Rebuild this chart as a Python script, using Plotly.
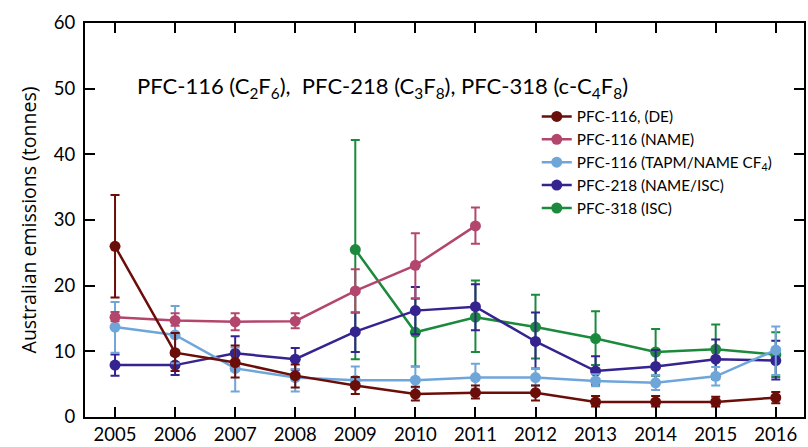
import plotly.graph_objects as go

years = [2005, 2006, 2007, 2008, 2009, 2010, 2011, 2012, 2013, 2014, 2015, 2016]

# PFC-116 (DE)
de_val = [26.0, 9.8, 8.3, 6.3, 4.8, 3.5, 3.7, 3.7, 2.3, 2.3, 2.3, 2.95]
de_lo = [18.2, 7.0, 6.0, 4.5, 3.5, 2.5, 2.8, 2.5, 1.6, 1.6, 1.6, 2.1]
de_hi = [33.8, 12.8, 10.9, 8.0, 6.1, 4.6, 4.8, 4.8, 3.2, 3.2, 3.1, 3.8]

# PFC-116 (NAME)
name_years = [2005, 2006, 2007, 2008, 2009, 2010, 2011]
name_val = [15.2, 14.7, 14.5, 14.6, 19.2, 23.1, 29.1]
name_lo = [14.6, 13.9, 13.2, 13.5, 15.9, 18.1, 26.4]
name_hi = [16.0, 15.8, 15.8, 15.8, 22.5, 28.0, 31.9]

# PFC-116 (TAPM/NAME CF4)
tapm_val = [13.7, 12.5, 7.4, 6.0, 5.6, 5.6, 6.0, 6.0, 5.5, 5.2, 6.2, 10.2]
tapm_lo = [9.8, 8.2, 3.9, 3.9, 4.5, 4.5, 4.3, 4.8, 4.7, 4.1, 4.8, 6.4]
tapm_hi = [17.5, 16.9, 10.6, 7.3, 7.7, 7.7, 8.1, 7.4, 6.5, 6.4, 7.6, 13.8]

# PFC-218 (NAME/ISC)
p218_val = [7.9, 7.9, 9.7, 8.8, 13.0, 16.2, 16.8, 11.5, 7.0, 7.7, 8.8, 8.6]
p218_lo = [6.3, 6.4, 7.1, 7.2, 9.9, 12.6, 13.2, 7.4, 4.9, 5.4, 5.8, 5.7]
p218_hi = [9.5, 9.4, 12.3, 10.5, 15.9, 19.8, 20.2, 15.9, 9.25, 10.2, 11.8, 11.6]

# PFC-318 (ISC)
p318_years = [2009, 2010, 2011, 2012, 2013, 2014, 2015, 2016]
p318_val = [25.5, 12.9, 15.2, 13.7, 11.95, 9.9, 10.3, 9.5]
p318_lo = [8.8, 7.7, 9.9, 8.9, 7.9, 6.3, 6.5, 6.1]
p318_hi = [42.2, 18.0, 20.8, 18.6, 16.1, 13.4, 14.1, 12.9]

x_ticks = years
y_ticks = [0, 10, 20, 30, 40, 50, 60]

series = [
    # (name, x, val, lo, hi, color, legendrank)
    ("PFC-318 (ISC)", p318_years, p318_val, p318_lo, p318_hi, "#1c8a3c", 5),
    ("PFC-218 (NAME/ISC)", years, p218_val, p218_lo, p218_hi, "#35238f", 4),
    ("PFC-116 (TAPM/NAME CF<sub>4</sub>)", years, tapm_val, tapm_lo, tapm_hi, "#6fa6da", 3),
    ("PFC-116 (NAME)", name_years, name_val, name_lo, name_hi, "#b3466d", 2),
    ("PFC-116, (DE)", years, de_val, de_lo, de_hi, "#6b0e0a", 1),
]

fig = go.Figure()
for name, xs, v, lo, hi, col, rank in series:
    fig.add_trace(go.Scatter(
        x=xs, y=v, name=name, mode="lines+markers",
        line=dict(color=col, width=2.5),
        marker=dict(color=col, size=11),
        error_y=dict(type="data", symmetric=False,
                     array=[h - a for h, a in zip(hi, v)],
                     arrayminus=[a - l for a, l in zip(v, lo)],
                     color=col, thickness=2, width=4.5),
        legendrank=rank,
    ))

axis_common = dict(
    showline=True, linecolor="black", linewidth=2, mirror="ticks",
    ticks="inside", ticklen=10, tickwidth=2, tickcolor="black",
    showgrid=False, zeroline=False,
    tickfont=dict(family="Lato", size=18.5, color="black"),
)

W, H = 808, 447
ML, MR, MT, MB = 85, 2, 23, 30
pw, ph = W - ML - MR, H - MT - MB

fig.update_layout(
    width=W, height=H,
    margin=dict(l=ML, r=MR, t=MT, b=MB),
    paper_bgcolor="white", plot_bgcolor="white",
    xaxis=dict(range=[2004.5, 2016.47], tickvals=x_ticks, **axis_common),
    yaxis=dict(range=[0, 60], tickvals=y_ticks, ticklabelstandoff=4,
               title=dict(text="Australian emissions (tonnes)",
                          font=dict(family="Open Sans", size=19.5, color="black"),
                          standoff=12),
               **axis_common),
    legend=dict(x=(543 - 5 - ML) / pw, y=(H - MB - 100) / ph, xanchor="left", yanchor="top",
                bgcolor="rgba(0,0,0,0)", tracegroupgap=0,
                font=dict(family="Lato", size=15.3, color="black"),
                itemwidth=30),
    showlegend=True,
    annotations=[dict(
        text="PFC-116 (C<sub>2</sub>F<sub>6</sub>),  PFC-218 (C<sub>3</sub>F<sub>8</sub>), PFC-318 (c-C<sub>4</sub>F<sub>8</sub>)",
        x=(383 - ML) / pw, y=(H - MB - 70) / ph, xref="paper", yref="paper", showarrow=False,
        font=dict(family="Lato", size=22, color="black"),
    )],
)

fig.write_html("out.html", config={"displayModeBar": False},
               post_script="document.body.style.margin='0';document.body.style.overflow='hidden';")
